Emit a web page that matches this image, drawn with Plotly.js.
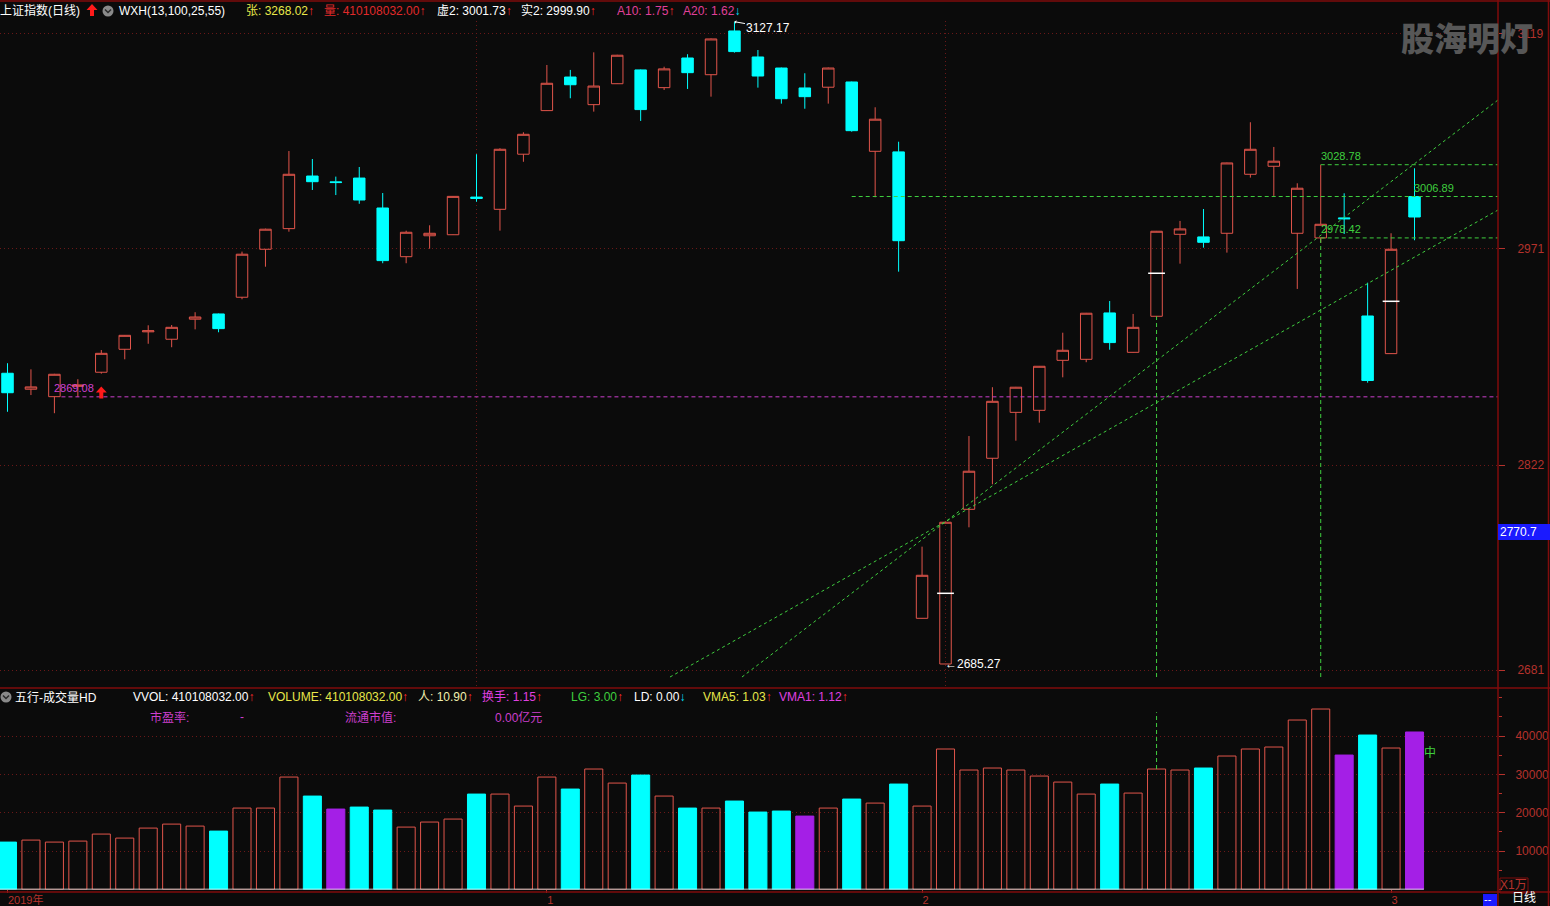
<!DOCTYPE html>
<html><head><meta charset="utf-8">
<script src="https://cdn.plot.ly/plotly-3.0.1.min.js"></script>
<style>html,body{margin:0;padding:0;background:#0b0b0b;}#chart{width:1550px;height:906px;}</style>
</head><body><div id="chart"></div>
<script>
// ---------------- DATA ----------------
const dates = ['2019-11-29',
 '2019-12-02','2019-12-03','2019-12-04','2019-12-05','2019-12-06','2019-12-09','2019-12-10','2019-12-11','2019-12-12','2019-12-13',
 '2019-12-16','2019-12-17','2019-12-18','2019-12-19','2019-12-20','2019-12-23','2019-12-24','2019-12-25','2019-12-26','2019-12-27',
 '2019-12-30','2019-12-31',
 '2020-01-02','2020-01-03','2020-01-06','2020-01-07','2020-01-08','2020-01-09','2020-01-10','2020-01-13','2020-01-14','2020-01-15',
 '2020-01-16','2020-01-17','2020-01-20','2020-01-21','2020-01-22','2020-01-23',
 '2020-02-03','2020-02-04','2020-02-05','2020-02-06','2020-02-07','2020-02-10','2020-02-11','2020-02-12','2020-02-13','2020-02-14',
 '2020-02-17','2020-02-18','2020-02-19','2020-02-20','2020-02-21','2020-02-24','2020-02-25','2020-02-26','2020-02-27','2020-02-28',
 '2020-03-02','2020-03-03'];

const openP  = [2885.3,2874.3,2869.2,2876.3,2886.0,2901.8,2913.8,2908.7,2922.5,2926.1,
 2937.6,2970.6,2984.8,3021.0,3017.0,3019.6,2999.0,2965.5,2979.9,2980.6,
 3006.5,2998.1,3036.0,3066.0,3089.1,3070.1,3084.5,3094.0,3081.8,3102.2,
 3090.7,3120.8,3102.9,3095.3,3081.6,3082.1,3085.7,3038.0,3037.6,2716.7,
 2685.27,2791.7,2826.8,2858.4,2859.8,2894.2,2894.9,2926.8,2899.7,2924.5,
 2980.9,2979.1,2981.6,3022.2,3027.7,2981.6,2978.42,2992.2,2924.7,2898.8,3006.89];
const highP  = [2892.2,2888.0,2884.9,2881.2,2901.3,2911.6,2918.3,2918.5,2927.3,2926.4,
 2969.0,2984.8,3038.2,3032.7,3020.6,3027.2,3009.3,2983.4,2987.1,3007.2,
 3036.0,3040.1,3051.1,3097.4,3094.0,3106.1,3104.4,3094.3,3096.2,3104.8,
 3115.6,3127.17,3107.7,3095.6,3091.7,3095.6,3086.0,3068.3,3044.6,2766.0,
 2783.1,2842.1,2875.7,2875.9,2890.3,2913.2,2926.8,2935.0,2926.1,2983.2,
 2990.1,2998.3,3030.2,3058.0,3041.0,3016.0,3028.78,3009.1,2947.6,2981.6,3026.3];
const lowP   = [2858.8,2870.3,2857.8,2869.1,2885.0,2894.9,2905.6,2903.2,2915.5,2913.5,
 2936.2,2958.6,2982.7,3011.4,3007.9,3001.9,2961.0,2961.0,2971.0,2980.4,
 3003.3,2983.4,3030.8,3065.8,3074.5,3065.3,3084.3,3058.9,3080.2,3080.9,
 3075.6,3105.9,3081.8,3070.8,3067.3,3070.8,3051.5,3006.4,2955.2,2716.5,
 2685.27,2779.3,2808.9,2838.9,2851.3,2882.5,2892.9,2901.5,2899.5,2924.3,
 2960.7,2971.7,2968.3,3019.9,3007.3,2943.3,2975.1,2981.1,2878.8,2898.6,2976.8];
const closeP = [2871.9,2875.9,2884.6,2877.2,2899.0,2911.4,2914.5,2916.9,2924.0,2916.0,
 2967.2,2984.4,3022.2,3017.1,3016.5,3004.5,2962.8,2982.3,2981.6,3007.0,
 3005.6,3039.4,3049.7,3084.8,3083.8,3082.9,3104.1,3066.7,3094.7,3092.1,
 3115.3,3106.6,3089.8,3074.2,3075.6,3095.3,3052.2,3060.1,2976.5,2746.3,
 2782.8,2817.9,2866.0,2875.7,2890.1,2901.1,2926.6,2906.4,2916.9,2983.0,
 2984.6,2975.4,3030.0,3039.4,3031.2,3012.6,2987.8,2991.6,2880.3,2970.6,2992.8];

// volume in units of 万 (X1万)
const volume = [12340,12860,12340,12600,14430,13380,15990,17030,16510,15210,
 21210,21210,29300,24340,20950,21470,20690,16250,17560,18340,
 24860,24860,21730,29300,26170,31390,27730,29820,24340,21210,
 21210,23040,20170,20430,19120,21210,23560,22510,27470,21730,
 36610,31130,31650,31130,29560,27990,24860,27470,25120,31390,
 31130,31650,34780,36610,37130,44170,47040,35040,40260,36870,41050];
// u = up (hollow red), d = down (cyan), p = purple
const volKind = ['d','u','u','u','u','u','u','u','u','d',
 'u','u','u','d','p','d','d','u','u','u',
 'd','u','u','u','d','u','u','d','u','d',
 'u','d','d','d','p','u','d','u','d','u',
 'u','u','u','u','u','u','u','d','u','u',
 'u','d','u','u','u','u','u','p','d','u','p'];

const priceTicks = [2681, 2822, 2971, 3119];
const volTicks = [10000, 20000, 30000, 40000];
const dateTickIdx = [0, 23, 39, 59];
const dateTickText = ['2019年', '1', '2', '3'];

// white average marks inside some candles
const markIdx = [40, 49, 59];
const markVal = [2733.9, 2954.1, 2934.8];
// buy-signal arrow
const signalIdx = [4];
const signalVal = [2872.1];
// drawn levels
const magentaLevel = {from: 2.3, value: 2869.08};
const greenLevels = [{from: 36, value: 3006.89, label: false},
                     {from: 56, value: 3028.78, label: true},
                     {from: 56, value: 2978.42, label: true}];
const greenVerticals = [{at: 49, top: 2924.5}, {at: 56, top: 2978.42}];
const volVertical = {at: 49, from: 31390, to: 46200};
const trendLines = [{x0: 31.32, y0: 2676.3, x1: 63.56, y1: 3073.3},
                    {x0: 28.25, y0: 2676.3, x1: 63.56, y1: 2997.6}];
const highLabel = {idx: 31, value: 3127.17};
const lowLabel = {idx: 40, value: 2685.27};
const lastOpenLabel = {idx: 60, value: 3006.89};
const crossValue = '2770.7';

// ---------------- STYLE ----------------
const W = 1550, H = 906, PR = 1498;
const px = v => v / W, py = v => 1 - v / H;
const BG = '#0b0b0b', RED = '#e1554b', CYAN = '#00ffff', PURPLE = '#a41fe6',
      GREEN = '#3fcf3f', MAG = '#cc3fcc', AXC = '#b5322c', GRID = '#6a1818',
      FRAME = '#800c0c', PINK = '#e0409a', YEL = '#e8e84a';
const FONT = 'Liberation Sans, Arial, Noto Sans CJK SC, sans-serif';

const x = dates.map((d, i) => i);
const fillMap = {u: 'rgba(0,0,0,0)', d: CYAN, p: PURPLE};
const lineMap = {u: RED, d: CYAN, p: PURPLE};

const traces = [
  {type: 'candlestick', x: x, open: openP, high: highP, low: lowP, close: closeP,
   xaxis: 'x', yaxis: 'y', hoverinfo: 'skip', showlegend: false,
   increasing: {line: {color: RED, width: 1}, fillcolor: 'rgba(0,0,0,0)'},
   decreasing: {line: {color: CYAN, width: 1}, fillcolor: CYAN}},
  {type: 'scatter', mode: 'markers', x: markIdx, y: markVal, xaxis: 'x', yaxis: 'y',
   marker: {symbol: 'line-ew', size: 12, color: '#ffffff', line: {color: '#ffffff', width: 1.5}},
   hoverinfo: 'skip', showlegend: false},
  {type: 'bar', x: x, y: volume, width: 0.77, xaxis: 'x2', yaxis: 'y2',
   marker: {color: volKind.map(k => fillMap[k]), line: {color: volKind.map(k => lineMap[k]), width: 1}},
   hoverinfo: 'skip', showlegend: false}
];

const shapes = [];
// vertical dotted grid in price panel
[20, 40].forEach(i => shapes.push({type: 'line', xref: 'x', yref: 'y domain', x0: i, x1: i, y0: 0, y1: 1,
  line: {color: GRID, width: 1, dash: '1px,3px'}, layer: 'below'}));
// magenta level
shapes.push({type: 'line', xref: 'x', yref: 'y', x0: magentaLevel.from, x1: 63.56, y0: magentaLevel.value, y1: magentaLevel.value,
  line: {color: MAG, width: 1, dash: '4px,3px'}});
// green levels
greenLevels.forEach(g => shapes.push({type: 'line', xref: 'x', yref: 'y', x0: g.from, x1: 63.56, y0: g.value, y1: g.value,
  line: {color: GREEN, width: 1, dash: '4px,3px'}}));
greenVerticals.forEach(g => shapes.push({type: 'line', xref: 'x', yref: 'y', x0: g.at, x1: g.at, y0: 2676.3, y1: g.top,
  line: {color: GREEN, width: 1, dash: '4px,3px'}}));
shapes.push({type: 'line', xref: 'x2', yref: 'y2', x0: volVertical.at, x1: volVertical.at, y0: volVertical.from, y1: volVertical.to,
  line: {color: GREEN, width: 1, dash: '4px,3px'}});
trendLines.forEach(t => shapes.push({type: 'line', xref: 'x', yref: 'y', x0: t.x0, y0: t.y0, x1: t.x1, y1: t.y1,
  line: {color: GREEN, width: 1, dash: '3px,3px'}}));
// zero line under volume bars
shapes.push({type: 'line', xref: 'x2', yref: 'y2', x0: -0.32, x1: 60.4, y0: 0, y1: 0, line: {color: '#ffffff', width: 1.5}});
// frame lines
const fr = (x0, y0, x1, y1) => shapes.push({type: 'line', xref: 'paper', yref: 'paper', x0: px(x0), y0: py(y0), x1: px(x1), y1: py(y1), line: {color: FRAME, width: 1.5}});
fr(PR, 0, PR, 906); fr(1548.5, 0, 1548.5, 906); fr(0, 1, 1550, 1); fr(0, 688, 1550, 688); fr(0, 892, 1550, 892);
// X1万 box
shapes.push({type: 'rect', xref: 'paper', yref: 'paper', x0: px(1500), x1: px(1528), y0: py(893), y1: py(878), line: {color: FRAME, width: 1}});
// blue crosshair value box
shapes.push({type: 'rect', xref: 'paper', yref: 'paper', x0: px(1498), x1: px(1550), y0: py(540), y1: py(524), fillcolor: '#1a1aff', line: {width: 0}});
// blue "--" box bottom
shapes.push({type: 'rect', xref: 'paper', yref: 'paper', x0: px(1483), x1: px(1497), y0: py(906), y1: py(894), fillcolor: '#1a1aff', line: {width: 0}});
// grey circle icons with chevron
[[108, 11], [6, 697]].forEach(c => {
  shapes.push({type: 'circle', xref: 'paper', yref: 'paper',
    x0: px(c[0] - 5.5), x1: px(c[0] + 5.5), y0: py(c[1] + 5.5), y1: py(c[1] - 5.5), fillcolor: '#8a8a8a', line: {width: 0}});
  shapes.push({type: 'path', xref: 'paper', yref: 'paper',
    path: `M${px(c[0] - 3)},${py(c[1] - 1.5)} L${px(c[0])},${py(c[1] + 1.5)} L${px(c[0] + 3)},${py(c[1] - 1.5)}`,
    line: {color: '#2a2a2a', width: 1.5}});
});
// header red thick arrow
const arrowPath = (cx, cy) => {
  const pts = [[-5.5, 0], [0, -6], [5.5, 0], [2, 0], [2, 6], [-2, 6], [-2, 0]];
  return 'M' + pts.map(p => `${px(cx + p[0])},${py(cy + p[1])}`).join(' L') + ' Z';
};
shapes.push({type: 'path', xref: 'paper', yref: 'paper', path: arrowPath(92, 10), fillcolor: '#ff1a1a', line: {width: 0}});
// buy-signal arrow anchored to the data point
signalIdx.forEach((s, k) => shapes.push({type: 'path', xref: 'x', yref: 'y', xsizemode: 'pixel', ysizemode: 'pixel',
  xanchor: s, yanchor: signalVal[k], path: 'M-5.5,0 L0,6 L5.5,0 L2,0 L2,-6 L-2,-6 L-2,0 Z',
  fillcolor: '#ff1a1a', line: {width: 0}}));

const ann = [];
const T = (xp, yp, text, color, size, extra) => ann.push(Object.assign({xref: 'paper', yref: 'paper', x: px(xp), y: py(yp), text: text,
  showarrow: false, xanchor: 'left', yanchor: 'middle', font: {family: FONT, size: size || 12, color: color || '#ffffff'}}, extra || {}));
const up = '<span style="color:#ff2a2a">↑</span>';
const dn = '<span style="color:#00e5ff">↓</span>';
const sp = (c, t) => `<span style="color:${c}">${t}</span>`;

// header row
T(-2, 11, '上证指数(日线)', '#ffffff', 12);
T(117, 11, 'WXH(13,100,25,55)', '#ffffff', 12);
T(244, 11, sp(YEL, '张: 3268.02') + up);
T(322, 11, sp('#e02a2a', '量: 410108032.00') + up);
T(435, 11, '虚2: 3001.73' + up);
T(519, 11, '实2: 2999.90' + up);
T(615, 11, sp(PINK, 'A10: 1.75') + up);
T(681, 11, sp(PINK, 'A20: 1.62') + dn);

// volume header
T(13, 697, '五行-成交量HD');
T(131, 697, 'VVOL: 410108032.00' + up);
T(266, 697, sp(YEL, 'VOLUME: 410108032.00') + up);
T(416, 697, sp('#f2f0b0', '人: 10.90') + up);
T(480, 697, sp('#e040e0', '换手: 1.15') + up);
T(569, 697, sp(GREEN, 'LG: 3.00') + up);
T(632, 697, 'LD: 0.00' + dn);
T(701, 697, sp(YEL, 'VMA5: 1.03') + up);
T(777, 697, sp('#e040e0', 'VMA1: 1.12') + up);
T(148, 717, '市盈率:', MAG);
T(238, 717, '-', MAG);
T(343, 717, '流通市值:', MAG);
T(493, 717, '0.00亿元', MAG);

// watermark
ann.push({xref: 'paper', yref: 'paper', x: px(1467), y: py(37), text: '股海明灯', showarrow: false, xanchor: 'center', yanchor: 'middle',
  font: {family: 'Noto Sans CJK SC', size: 33, color: '#575757', weight: 900}});
// crosshair value
T(1498, 532, crossValue, '#ffffff', 12);
T(1482, 899, '--', '#ffffff', 11);
T(1510, 898, '日线', '#ffffff', 12);
T(1498, 885, 'X1万', AXC, 12);
T(1422, 752, '中', GREEN, 12);

// data labels
ann.push({xref: 'x', yref: 'y', x: highLabel.idx, y: highLabel.value, text: highLabel.value.toFixed(2), showarrow: true,
  ax: 34, ay: 6, arrowhead: 1, arrowsize: 0.6, arrowwidth: 1, arrowcolor: '#ffffff', font: {family: FONT, size: 12, color: '#ffffff'}});
ann.push({xref: 'x', yref: 'y', x: lowLabel.idx, y: lowLabel.value, text: '←' + lowLabel.value.toFixed(2), showarrow: false,
  xanchor: 'left', yanchor: 'middle', xshift: -3, font: {family: FONT, size: 12, color: '#ffffff'}});
ann.push({xref: 'x', yref: 'y', x: 1.9, y: magentaLevel.value, yshift: 9, text: magentaLevel.value.toFixed(2), showarrow: false,
  xanchor: 'left', yanchor: 'middle', font: {family: FONT, size: 11, color: '#d040d0'}});
greenLevels.filter(g => g.label).forEach(g => ann.push({xref: 'x', yref: 'y', x: g.from - 0.07, y: g.value, yshift: 9,
  text: g.value.toFixed(2), showarrow: false, xanchor: 'left', yanchor: 'middle', font: {family: FONT, size: 11, color: GREEN}}));
ann.push({xref: 'x', yref: 'y', x: lastOpenLabel.idx - 0.12, y: lastOpenLabel.value, yshift: 9, text: lastOpenLabel.value.toFixed(2),
  showarrow: false, xanchor: 'left', yanchor: 'middle', font: {family: FONT, size: 11, color: GREEN}});

const layout = {
  width: W, height: H, margin: {l: 0, r: 0, t: 0, b: 0}, paper_bgcolor: BG, plot_bgcolor: BG,
  showlegend: false, dragmode: false, hovermode: false,
  xaxis: {domain: [0, PR / W], range: [-0.32, 63.56], anchor: 'y', showgrid: false, zeroline: false,
    showticklabels: false, ticks: '', rangeslider: {visible: false}, fixedrange: true},
  yaxis: {domain: [py(686), py(20)], range: [2670.13, 3128.34], side: 'right', anchor: 'x',
    tickmode: 'array', tickvals: priceTicks, ticktext: priceTicks.map(String),
    ticks: 'outside', ticklen: 6, tickcolor: AXC, ticklabelstandoff: 10,
    tickfont: {family: FONT, size: 12, color: AXC},
    showgrid: true, gridcolor: GRID, griddash: '1px,3px', gridwidth: 1, zeroline: false, showline: false, fixedrange: true},
  xaxis2: {domain: [0, PR / W], matches: 'x', anchor: 'y2', tickmode: 'array', tickvals: dateTickIdx, ticktext: dateTickText,
    ticklabelposition: 'outside right', ticks: 'outside', ticklen: 3, tickcolor: AXC,
    tickfont: {family: FONT, size: 11, color: AXC}, showgrid: false, zeroline: false, showline: false,
    rangeslider: {visible: false}, fixedrange: true},
  yaxis2: {domain: [py(889.4), py(690)], range: [0, 52000], side: 'right', anchor: 'x2',
    tickmode: 'array', tickvals: volTicks, ticktext: volTicks.map(String),
    ticks: 'outside', ticklen: 6, tickcolor: AXC, ticklabelstandoff: 8,
    minor: {tickmode: 'linear', tick0: 0, dtick: 5000, ticks: 'outside', ticklen: 3, tickcolor: AXC, showgrid: false},
    tickfont: {family: FONT, size: 12, color: AXC},
    showgrid: true, gridcolor: GRID, griddash: '1px,3px', zeroline: false, showline: false, fixedrange: true},
  bargap: 0, barmode: 'overlay',
  shapes: shapes, annotations: ann
};

Plotly.newPlot('chart', traces, layout, {staticPlot: true, displayModeBar: false});
</script></body></html>
